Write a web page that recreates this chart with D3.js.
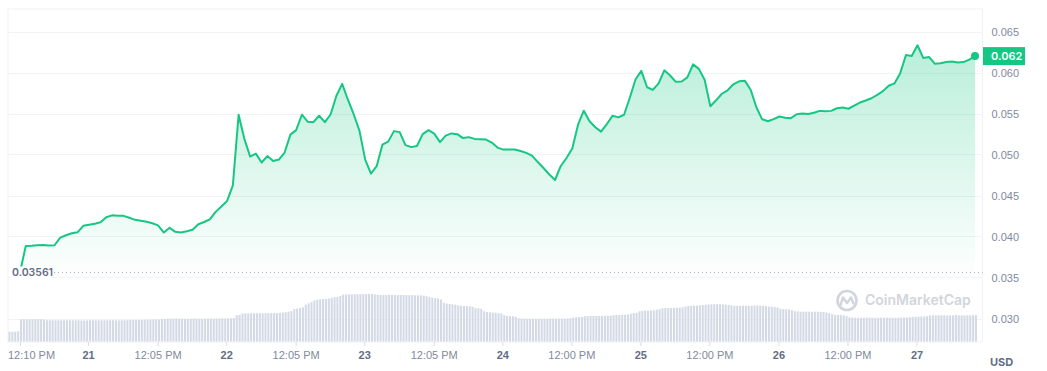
<!DOCTYPE html>
<html>
<head>
<meta charset="utf-8">
<script src="https://cdnjs.cloudflare.com/ajax/libs/d3/7.8.5/d3.min.js"></script>
<style>
  html, body { margin: 0; padding: 0; background: #fff; }
  svg { display: block; font-family: Inter, "Noto Sans", sans-serif; }
</style>
</head>
<body>
<svg id="chart" width="1047" height="371"></svg>
<script>
// price, one point per hour starting 20th 12:10 PM
const priceStart = "2023-06-20T12:10";
const prices = [
  0.03561, 0.03885, 0.03887, 0.03893, 0.03897, 0.03891, 0.03893, 0.03987, 0.04015, 0.04039,
  0.04051, 0.04130, 0.04143, 0.04155, 0.04173, 0.04234, 0.04258, 0.04252, 0.04252, 0.04228,
  0.04203, 0.04191, 0.04179, 0.04161, 0.04136, 0.04048, 0.04106, 0.04057, 0.04048, 0.04064,
  0.04082, 0.04149, 0.04177, 0.04209, 0.04300, 0.04367, 0.04434, 0.04623, 0.05485, 0.05190,
  0.04975, 0.05011, 0.04902, 0.04981, 0.04920, 0.04938, 0.05024, 0.05242, 0.05297, 0.05485,
  0.05400, 0.05394, 0.05473, 0.05394, 0.05491, 0.05716, 0.05862, 0.05668, 0.05491, 0.05291,
  0.04938, 0.04768, 0.04857, 0.05121, 0.05157, 0.05285, 0.05273, 0.05115, 0.05090, 0.05103,
  0.05248, 0.05297, 0.05254, 0.05151, 0.05230, 0.05257, 0.05248, 0.05200, 0.05212, 0.05190,
  0.05186, 0.05182, 0.05145, 0.05084, 0.05060, 0.05060, 0.05060, 0.05042, 0.05020, 0.04987,
  0.04908, 0.04835, 0.04756, 0.04689, 0.04860, 0.04957, 0.05072, 0.05364, 0.05534, 0.05406,
  0.05333, 0.05279, 0.05370, 0.05473, 0.05453, 0.05485, 0.05692, 0.05917, 0.06020, 0.05820,
  0.05789, 0.05868, 0.06026, 0.05963, 0.05886, 0.05890, 0.05941, 0.06099, 0.06044, 0.05911,
  0.05589, 0.05661, 0.05741, 0.05783, 0.05856, 0.05892, 0.05898, 0.05789, 0.05576, 0.05429,
  0.05406, 0.05431, 0.05463, 0.05449, 0.05443, 0.05491, 0.05500, 0.05495, 0.05510, 0.05532,
  0.05528, 0.05532, 0.05564, 0.05573, 0.05558, 0.05595, 0.05634, 0.05658, 0.05686, 0.05728,
  0.05773, 0.05838, 0.05867, 0.05992, 0.06214, 0.06202, 0.06332, 0.06178, 0.06190, 0.06108,
  0.06114, 0.06129, 0.06135, 0.06121, 0.06127, 0.06157, 0.06200
];

// 24h volume (millions), one bar per 30 minutes starting 20th 10:10 AM
const volumeStart = "2023-06-20T10:10";
const volumes = [
  9.8, 9.8, 9.9, 10.1,
  22.2, 22.3, 22.2, 22.2, 22.1, 22.2, 22.3, 22.2, 22.0,
  21.3, 21.2, 21.2, 21.1, 21.2, 21.2, 21.3, 21.2, 21.1, 21.2,
  21.2, 21.2, 21.0, 21.1, 21.2, 21.2, 21.3, 21.2, 21.2, 21.1,
  21.2, 21.2, 21.2, 21.3, 21.2, 21.1, 21.2, 21.2, 21.3, 21.4,
  21.5, 21.6, 21.6, 21.7, 21.7, 21.8, 21.8, 21.9, 22.0, 22.0,
  22.6, 22.7, 22.8, 22.8, 22.8, 22.9, 22.8, 22.8, 22.7, 22.8,
  22.8, 22.9, 22.8, 22.8, 22.8, 22.9, 23.0, 22.9, 22.9, 23.0,
  23.0, 23.1, 23.1, 23.2, 23.3, 23.4,
  26.3, 26.6,
  28.0, 28.1, 28.1, 28.2, 28.2, 28.2, 28.3, 28.2, 28.2, 28.3, 28.3, 28.4, 28.4, 28.6, 28.9, 29.3,
  29.8, 30.4,
  32.4, 33.0, 33.5, 34.2,
  36.8, 38.2, 39.4,
  41.2, 41.8, 42.2, 42.4, 42.6, 43.0, 43.6,
  44.3, 44.6, 45.5,
  46.8, 47.0, 47.2, 47.2, 47.3, 47.2, 47.3, 47.4, 47.5, 47.6, 47.5, 47.2,
  46.6, 46.5, 46.4, 46.5, 46.6, 46.5, 46.4, 46.4, 46.5, 46.5,
  46.4, 46.3, 46.3, 46.2, 46.2, 46.1, 45.9, 45.3, 44.5,
  43.8, 43.4, 43.0, 42.0,
  38.8, 37.9, 37.5, 37.2, 36.8,
  36.0, 35.8, 35.5, 35.4, 35.2, 34.6,
  33.5, 33.2, 32.6,
  30.2, 29.5, 29.2, 29.0, 28.8,
  28.4, 28.0,
  26.2, 25.6, 25.5, 25.3, 24.6,
  23.3, 23.0, 22.9, 22.8, 22.8, 22.7, 22.7, 22.8, 22.8, 22.7,
  22.7, 22.8, 22.8, 22.8, 22.9, 22.9, 23.0, 23.1, 23.4,
  24.0, 24.2, 24.3, 24.5,
  25.3, 25.4, 25.5, 25.5, 25.5, 25.6, 25.6, 25.7, 25.8, 26.0,
  26.4, 26.5, 26.5, 26.6, 26.7, 27.0,
  27.9, 28.3, 28.8,
  30.2, 30.6, 30.8, 30.9, 31.0, 31.2, 31.8, 32.4,
  33.2, 33.4, 33.5, 33.5, 33.6, 33.7, 33.9, 34.3, 34.9,
  35.6, 35.8, 35.8, 35.9, 36.1, 36.4, 36.8,
  37.1, 37.2, 37.3, 37.3, 37.2, 37.1, 36.9, 36.5,
  36.0, 35.8, 35.7, 35.8, 35.9, 35.8, 35.7, 35.8, 35.9, 36.0, 35.9, 35.7, 35.3,
  34.9, 34.8, 34.6, 34.0,
  32.8, 32.4, 32.2, 32.0, 31.2,
  30.3, 30.0, 29.8, 29.8, 29.9, 29.8, 29.7, 29.8, 29.8, 29.7, 29.5, 29.0, 28.2,
  27.2, 26.7, 26.5, 26.4, 26.2, 25.4,
  24.2, 23.9, 23.8, 23.8, 23.7, 23.8, 23.8, 23.9, 23.8, 23.7,
  23.8, 23.8, 23.8, 23.9, 23.8, 23.8, 23.7, 23.8, 23.9, 24.0, 24.1, 24.3,
  24.7, 24.8, 24.8, 24.9, 25.0, 25.3,
  25.9, 26.1, 26.2, 26.2, 26.3, 26.2, 26.2, 26.1, 26.2, 26.3,
  26.2, 26.2, 26.1, 26.2, 26.2, 26.3, 26.2
];

const yTicks = [0.030, 0.035, 0.040, 0.045, 0.050, 0.055, 0.060, 0.065];
const xTickTimes = [
  "2023-06-20T12:10", "2023-06-21T00:00", "2023-06-21T12:05", "2023-06-22T00:00",
  "2023-06-22T12:05", "2023-06-23T00:00", "2023-06-23T12:05", "2023-06-24T00:00",
  "2023-06-24T12:00", "2023-06-25T00:00", "2023-06-25T12:00", "2023-06-26T00:00",
  "2023-06-26T12:00", "2023-06-27T00:00"
];
const xTickLabels = [
  "12:10 PM", "21", "12:05 PM", "22", "12:05 PM", "23", "12:05 PM", "24",
  "12:00 PM", "25", "12:00 PM", "26", "12:00 PM", "27"
];
const lowLabel = "0.03561";
const lastLabel = "0.062";
const currency = "USD";
const brand = "CoinMarketCap";

const parse = d3.timeParse("%Y-%m-%dT%H:%M");
const HOUR = 3600 * 1000;
const t0 = parse(priceStart);
const v0 = parse(volumeStart);
const priceData = prices.map((p, i) => ({ t: new Date(+t0 + i * HOUR), p }));
const volData = volumes.map((v, i) => ({ t: new Date(+v0 + i * HOUR / 2), v }));

const green = "#16c784";
const plot = { left: 8, right: 982.5, top: 9, bottom: 342 };

const svg = d3.select("#chart");

const x = d3.scaleTime()
  .domain([priceData[0].t, priceData[priceData.length - 1].t])
  .range([20, 975]);
const y = d3.scaleLinear().domain([0.030, 0.065]).range([318.5, 31.5]);
const yVol = d3.scaleLinear().domain([0, 60]).range([341.5, 281.5]);

// frame
svg.append("rect")
  .attr("x", plot.left).attr("y", plot.top)
  .attr("width", plot.right - plot.left).attr("height", plot.bottom - plot.top)
  .attr("fill", "none").attr("stroke", "#eff2f5").attr("stroke-width", 1);

// grid
svg.append("g").selectAll("line")
  .data(yTicks)
  .join("line")
  .attr("x1", plot.left).attr("x2", plot.right)
  .attr("y1", d => Math.round(y(d)) + 0.5).attr("y2", d => Math.round(y(d)) + 0.5)
  .attr("stroke", "#f1f3f6");

// volume bars
svg.append("g").selectAll("rect")
  .data(volData)
  .join("rect")
  .attr("x", d => x(d.t))
  .attr("y", d => yVol(d.v))
  .attr("width", 2)
  .attr("height", d => yVol(0) - yVol(d.v))
  .attr("fill", "#d3d9e5");

// area gradient
const minP = d3.min(prices), maxP = d3.max(prices);
const grad = svg.append("defs").append("linearGradient")
  .attr("id", "fillGrad").attr("gradientUnits", "userSpaceOnUse")
  .attr("x1", 0).attr("x2", 0).attr("y1", y(maxP)).attr("y2", y(minP));
grad.append("stop").attr("offset", 0).attr("stop-color", green).attr("stop-opacity", 0.3);
grad.append("stop").attr("offset", 1).attr("stop-color", green).attr("stop-opacity", 0.01);

svg.append("path")
  .datum(priceData)
  .attr("fill", "url(#fillGrad)")
  .attr("d", d3.area().x(d => x(d.t)).y0(y(minP)).y1(d => y(d.p)));

// low reference line
svg.append("line")
  .attr("x1", 54).attr("x2", plot.right)
  .attr("y1", y(minP)).attr("y2", y(minP))
  .attr("stroke", "#a6b0c3").attr("stroke-dasharray", "1,3");

svg.append("path")
  .datum(priceData)
  .attr("fill", "none")
  .attr("stroke", green)
  .attr("stroke-width", 2)
  .attr("stroke-linejoin", "round")
  .attr("d", d3.line().x(d => x(d.t)).y(d => y(d.p)));

const lowG = svg.append("g");
lowG.append("rect").attr("x", 10).attr("y", y(minP) - 6).attr("width", 42).attr("height", 12).attr("fill", "#fff");
lowG.append("text")
  .attr("x", 12).attr("y", y(minP)).attr("dy", "0.35em")
  .attr("font-size", 10.5).attr("font-weight", 600).attr("fill", "#616e85")
  .text(lowLabel);

// end dot
const last = priceData[priceData.length - 1];
svg.append("circle").attr("cx", x(last.t)).attr("cy", y(last.p)).attr("r", 4).attr("fill", green);

// y axis
const yAxis = svg.append("g")
  .attr("transform", `translate(${plot.right},0)`)
  .call(d3.axisRight(y).tickValues(yTicks).tickFormat(d3.format(".3f")).tickSize(0).tickPadding(9));
yAxis.select(".domain").remove();
yAxis.selectAll("text").attr("font-size", 11).attr("fill", "#808a9d").attr("font-family", null);

// current price tag
svg.append("rect")
  .attr("x", 983).attr("y", y(last.p) - 9)
  .attr("width", 42).attr("height", 18).attr("fill", green);
svg.append("text")
  .attr("x", 991).attr("y", y(last.p)).attr("dy", "0.35em")
  .attr("font-size", 11).attr("font-weight", 600).attr("fill", "#fff")
  .text(lastLabel);

// x axis
const xAxis = svg.append("g")
  .attr("transform", `translate(0,${plot.bottom})`)
  .call(d3.axisBottom(x)
    .tickValues(xTickTimes.map(parse))
    .tickFormat((d, i) => xTickLabels[i])
    .tickSize(4).tickPadding(5));
xAxis.select(".domain").remove();
xAxis.selectAll(".tick line").attr("stroke", "#d8dde6");
xAxis.selectAll("text")
  .attr("font-size", 11)
  .attr("font-family", null)
  .attr("font-weight", (d, i) => /^\d+$/.test(xTickLabels[i]) ? 700 : 400)
  .attr("fill", (d, i) => /^\d+$/.test(xTickLabels[i]) ? "#616e85" : "#808a9d")
  .each(function () {
    const b = this.getBBox();
    const tx = +this.parentNode.getAttribute("transform").match(/translate\(([-\d.]+)/)[1];
    if (tx + b.x < plot.left) d3.select(this).attr("x", plot.left - tx - b.x);
  });

svg.append("text")
  .attr("x", 990).attr("y", 362).attr("dy", "0.35em")
  .attr("font-size", 11).attr("font-weight", 700).attr("fill", "#616e85")
  .text(currency);

// watermark
const wm = svg.append("g").attr("opacity", 0.9);
wm.append("circle").attr("cx", 847).attr("cy", 300.5).attr("r", 9.5)
  .attr("fill", "none").attr("stroke", "#cdd2da").attr("stroke-width", 2.6);
wm.append("path")
  .attr("d", "M840.5,305 L843,297.5 L847,303 L851,297.5 L853.5,303.5")
  .attr("fill", "none").attr("stroke", "#cdd2da").attr("stroke-width", 2.4)
  .attr("stroke-linejoin", "round").attr("stroke-linecap", "round");
wm.append("text")
  .attr("x", 865).attr("y", 300.5).attr("dy", "0.35em")
  .attr("font-size", 14).attr("font-weight", 600).attr("fill", "#cdd2da")
  .text(brand);
</script>
</body>
</html>
